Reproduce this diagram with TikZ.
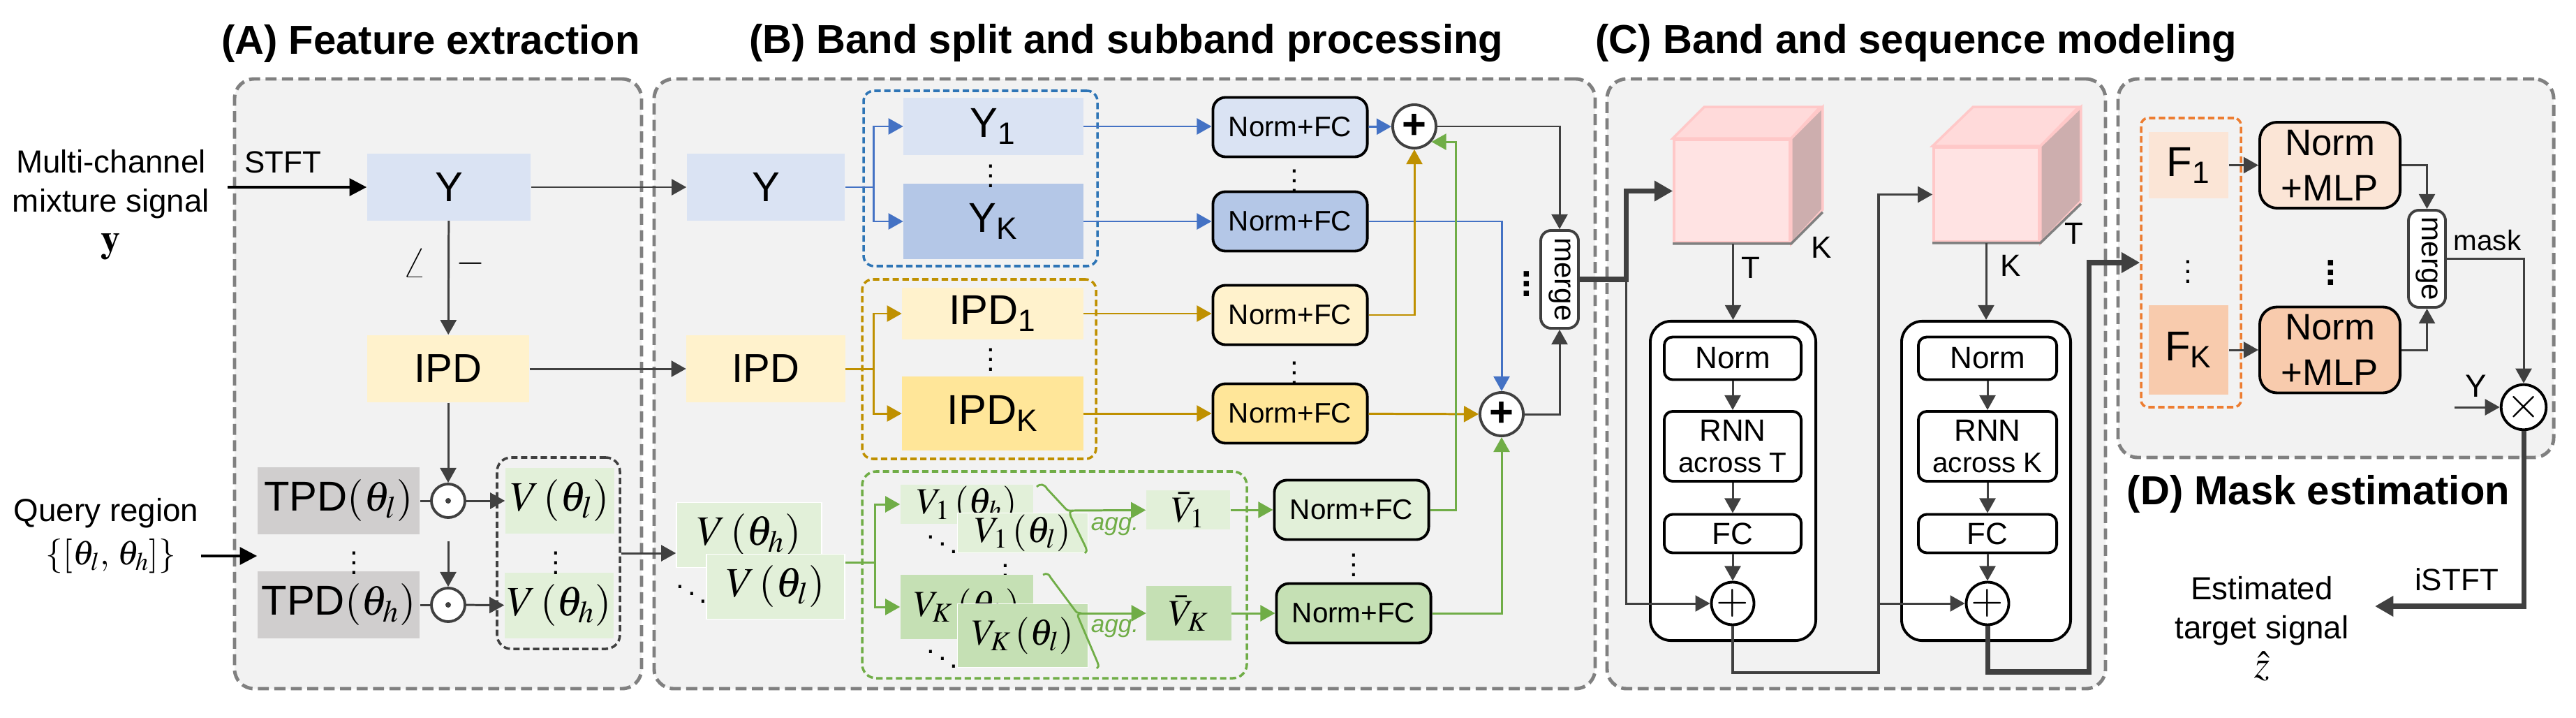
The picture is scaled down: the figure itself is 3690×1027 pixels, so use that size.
\documentclass[tikz,border=0pt]{standalone}
\usepackage{mathptmx}
\usepackage[no-math]{fontspec}
\setmainfont{Liberation Sans}
\usepackage{graphicx}
\usetikzlibrary{arrows.meta,fit}

\definecolor{panelbg}{HTML}{F2F2F2}
\definecolor{panelline}{HTML}{808080}
\definecolor{dgrey}{HTML}{404040}
\definecolor{yblue}{HTML}{DAE3F3}
\definecolor{ybluek}{HTML}{B4C7E7}
\definecolor{bline}{HTML}{4472C4}
\definecolor{bzone}{HTML}{2E75B6}
\definecolor{ipdy}{HTML}{FFF2CC}
\definecolor{ipdyk}{HTML}{FFE699}
\definecolor{yline}{HTML}{BF9000}
\definecolor{vgreen}{HTML}{E2F0D9}
\definecolor{vgreenk}{HTML}{C5E0B4}
\definecolor{gline}{HTML}{70AD47}
\definecolor{tpdgrey}{HTML}{D0CECE}
\definecolor{forange}{HTML}{FBE5D6}
\definecolor{forangek}{HTML}{F8CBAD}
\definecolor{ozone}{HTML}{ED7D31}
\definecolor{cubepink}{HTML}{FFE3E3}
\definecolor{cubetoppink}{HTML}{FFDADA}
\definecolor{cubeborder}{HTML}{FFC8C8}
\definecolor{cubeshade}{HTML}{CDAEAE}

\begin{document}
\begin{tikzpicture}[x=0.01cm, y=-0.01cm]

    % Styles
    \tikzstyle{panel} = [rectangle, rounded corners=0.28cm, draw=panelline, fill=panelbg, line width=1.4pt, dash pattern=on 4.5pt off 2.2pt, inner sep=0pt]
    \tikzstyle{paneltitle} = [inner sep=0pt, font=\fontsize{16.5}{20}\selectfont\bfseries]
    \tikzstyle{lbl} = [inner sep=0pt, align=center, font=\fontsize{13}{16}\selectfont]
    \tikzstyle{feat} = [rectangle, inner sep=0pt, font=\fontsize{17}{20}\selectfont]
    \tikzstyle{vfeat} = [rectangle, inner sep=0pt, font=\fontsize{15}{18}\selectfont]
    \tikzstyle{nfc} = [rectangle, rounded corners=0.18cm, draw=black, line width=1.1pt, minimum width=2.21cm, minimum height=0.85cm, inner sep=0pt, font=\fontsize{11.5}{14}\selectfont]
    \tikzstyle{nmlp} = [rectangle, rounded corners=0.25cm, draw=black, line width=1.1pt, minimum width=2.01cm, minimum height=1.23cm, inner sep=0pt, align=center, font=\fontsize{15}{18.5}\selectfont]
    \tikzstyle{sumop} = [circle, draw=dgrey, fill=white, line width=1.1pt, minimum size=0.62cm, inner sep=0pt, font=\fontsize{17}{17}\selectfont\bfseries]
    \tikzstyle{prodop} = [circle, draw=dgrey, fill=white, line width=1.1pt, minimum size=0.48cm, inner sep=0pt]
    \tikzstyle{mergebox} = [rectangle, rounded corners=0.15cm, draw=dgrey, fill=white, line width=1.1pt, minimum width=0.54cm, minimum height=1.40cm, inner sep=0pt, font=\fontsize{12}{12}\selectfont]
    \tikzstyle{blockout} = [rectangle, rounded corners=0.3cm, draw=black, line width=1.1pt, fill=white, minimum height=4.57cm, inner sep=0pt]
    \tikzstyle{layerbox} = [rectangle, rounded corners=0.12cm, draw=black, line width=1.1pt, fill=white, minimum width=1.96cm, inner sep=0pt, align=center, font=\fontsize{12.5}{13}\selectfont]
    \tikzstyle{dotsnode} = [inner sep=0pt, font=\fontsize{12}{12}\selectfont]
    \tikzstyle{cubefront} = [rectangle, fill=cubepink, draw=cubeborder, line width=1pt, inner sep=0pt]
    \tikzstyle{darrow} = [draw=dgrey, line width=0.85pt, -{Triangle[length=6pt,width=6.5pt]}]
    \tikzstyle{dline} = [draw=dgrey, line width=0.85pt]
    \tikzstyle{karrow} = [draw=black, line width=1.2pt, -{Triangle[length=7pt,width=7pt]}]
    \tikzstyle{tarrow} = [draw=dgrey, line width=2pt, -{Triangle[length=7.5pt,width=8pt]}]
    \tikzstyle{barrow} = [darrow, draw=bline]
    \tikzstyle{yarrow} = [darrow, draw=yline]
    \tikzstyle{garrow} = [darrow, draw=gline]
    \tikzset{greyzone/.style={rectangle, rounded corners=0.2cm, draw=dgrey, line width=1pt, dash pattern=on 2.6pt off 1.4pt, inner sep=0pt}}
    \tikzset{bluezone/.style={rectangle, rounded corners=0.15cm, draw=bzone, line width=1pt, dash pattern=on 2.6pt off 1.4pt, inner sep=0pt}}
    \tikzset{goldzone/.style={rectangle, rounded corners=0.15cm, draw=yline, line width=1pt, dash pattern=on 2.6pt off 1.4pt, inner sep=0pt}}
    \tikzset{greenzone/.style={rectangle, rounded corners=0.2cm, draw=gline, line width=1pt, dash pattern=on 2.6pt off 1.4pt, inner sep=0pt}}
    \tikzset{orangezone/.style={rectangle, rounded corners=0.1cm, draw=ozone, line width=1pt, dash pattern=on 2.6pt off 1.4pt, inner sep=0pt}}

    \useasboundingbox (0,0) rectangle (3690,1027);

    % Panels
    \node[panel, fit={(336,113) (919,986)}] (panelA) {};
    \node[panel, fit={(937,113) (2285,986)}] (panelB) {};
    \node[panel, fit={(2302,113) (3016,986)}] (panelC) {};
    \node[panel, fit={(3034,113) (3658,655)}] (panelD) {};
    \node[paneltitle] (titleA) at (617,62) {(A) Feature extraction};
    \node[paneltitle] (titleB) at (1613,62) {(B) Band split and subband processing};
    \node[paneltitle] (titleC) at (2745,62) {(C) Band and sequence modeling};
    \node[paneltitle] (titleD) at (3321,707) {(D) Mask estimation};

    % Zones
    \node[greyzone, fit={(712,655) (888,929)}] (vzoneA) {};
    \node[bluezone, fit={(1237,130) (1572,381)}] (yzone) {};
    \node[goldzone, fit={(1235,400) (1570,657)}] (izone) {};
    \node[greenzone, fit={(1235,675) (1786,971)}] (gzone) {};
    \node[orangezone, fit={(3067,169) (3210,583)}] (fzone) {};

    % Nodes (A)
    \node[lbl] (mixlbl) at (159,293) {Multi-channel\\mixture signal\\{\fontsize{16}{16}\selectfont$\mathbf{y}$}};
    \coordinate (yin) at (326,268);
    \node[lbl, font=\fontsize{12.5}{15}\selectfont] (stft) at (405,232) {STFT};
    \node[feat, fill=yblue, minimum width=2.34cm, minimum height=0.95cm] (ya) at (643,268) {Y};
    \node[feat, fill=ipdy, minimum width=2.32cm, minimum height=0.96cm, font=\fontsize{16.5}{20}\selectfont] (ipda) at (642,528) {IPD};
    \node[lbl, font=\fontsize{17}{17}\selectfont] (anglbl) at (594,377) {$\angle$};
    \node[lbl, font=\fontsize{15}{15}\selectfont] (minlbl) at (674,377) {$-$};
    \node[feat, fill=tpdgrey, minimum width=2.32cm, minimum height=0.95cm] (tpdl) at (485,717) {TPD$(\theta_l)$};
    \node[feat, fill=tpdgrey, minimum width=2.32cm, minimum height=0.95cm] (tpdh) at (485,866) {TPD$(\theta_h)$};
    \node[dotsnode] (tpddots) at (507,796) {$\vdots$};
    \node[prodop] (odl) at (642,717) {};
    \node[prodop] (odh) at (642,866) {};
    \fill[dgrey] (odl) circle[radius=0.04cm];
    \fill[dgrey] (odh) circle[radius=0.04cm];
    \coordinate (odmid) at (642,775);
    \node[feat, fill=vgreen, minimum width=1.56cm, minimum height=0.94cm] (vl) at (802,717) {$V\,(\theta_l)$};
    \node[feat, fill=vgreen, minimum width=1.56cm, minimum height=0.94cm] (vh) at (801,867) {$V\,(\theta_h)$};
    \node[dotsnode] (vdotsA) at (796,796) {$\vdots$};
    \node[lbl] (qlbl) at (152,735) {Query region};
    \node[lbl, font=\fontsize{14}{16}\selectfont] (qset) at (159,796) {$\{[\theta_l,\,\theta_h]\}$};
    \coordinate (tpdin) at (tpdl.west |- qset);

    % Nodes (B)
    \node[feat, fill=yblue, minimum width=2.26cm, minimum height=0.95cm] (yb) at (1097,268) {Y};
    \node[feat, fill=ipdy, minimum width=2.27cm, minimum height=0.96cm, font=\fontsize{16.5}{20}\selectfont] (ipdb) at (1097,528) {IPD};
    \node[feat, fill=vgreen, draw=white, minimum width=2.08cm, minimum height=0.93cm] (vhb) at (1073,766) {$V\,(\theta_h)$};
    \node[feat, fill=vgreen, draw=white, minimum width=1.98cm, minimum height=0.93cm] (vlb) at (1111,840) {$V\,(\theta_l)$};
    \node[dotsnode] (ddB) at (991,840) {$\ddots$};
    \node[feat, fill=yblue, minimum width=2.57cm, minimum height=0.82cm] (y1) at (1423,181) {Y\textsubscript{1}};
    \node[feat, fill=ybluek, minimum width=2.57cm, minimum height=1.08cm] (yk) at (1423,317) {Y\textsubscript{K}};
    \node[dotsnode] (ydots) at (1419,242) {$\vdots$};
    \node[feat, fill=ipdy, minimum width=2.59cm, minimum height=0.73cm] (ipd1) at (1422,449) {IPD\textsubscript{1}};
    \node[feat, fill=ipdyk, minimum width=2.59cm, minimum height=1.06cm] (ipdk) at (1422,592) {IPD\textsubscript{K}};
    \node[dotsnode] (idots) at (1419,505) {$\vdots$};
    \node[vfeat, fill=vgreen, minimum width=1.90cm, minimum height=0.55cm] (v1h) at (1385,722) {$V_1\,(\theta_h)$};
    \node[vfeat, fill=vgreen, draw=white, minimum width=1.87cm, minimum height=0.57cm] (v1l) at (1465,763) {$V_1\,(\theta_l)$};
    \node[dotsnode] (dd1) at (1350,769) {$\ddots$};
    \node[dotsnode] (vkdots) at (1440,814) {$\vdots$};
    \node[vfeat, fill=vgreenk, minimum width=1.90cm, minimum height=0.92cm] (vkh) at (1385,869) {$V_K\,(\theta_h)$};
    \node[vfeat, fill=vgreenk, draw=white, minimum width=1.87cm, minimum height=0.91cm] (vkl) at (1465,910) {$V_K\,(\theta_l)$};
    \node[dotsnode] (ddk) at (1350,933) {$\ddots$};
    \node[vfeat, fill=vgreen, minimum width=1.20cm, minimum height=0.55cm] (vbar1) at (1702,730) {$\bar{V}_1$};
    \node[vfeat, fill=vgreenk, minimum width=1.21cm, minimum height=0.78cm] (vbark) at (1703,878) {$\bar{V}_K$};
    \coordinate (agg1) at (1537,731);
    \coordinate (aggk) at (1549,878);
    \draw[gline, line width=0.8pt] (1485,697) .. controls (1490,692) and (1496,693) .. (1500,700) -- (1527,729) .. controls (1529,731) .. (agg1);
    \draw[gline, line width=0.8pt] (agg1) .. controls (1532,733) .. (1534,740) -- (1555,783) .. controls (1557,789) .. (1554,792);
    \draw[gline, line width=0.8pt] (1494,823) .. controls (1499,820) and (1503,822) .. (1505,827) -- (1540,874) .. controls (1542,877) .. (aggk);
    \draw[gline, line width=0.8pt] (aggk) .. controls (1543,880) .. (1546,887) -- (1572,948) .. controls (1574,954) .. (1571,957);
    \node[inner sep=0pt, text=gline, font=\fontsize{10}{10}\selectfont\itshape] (agglbl1) at (1597,754) {agg.};
    \node[inner sep=0pt, text=gline, font=\fontsize{10}{10}\selectfont\itshape] (agglblk) at (1597,900) {agg.};
    \node[nfc, fill=yblue] (nf1) at (1848,182) {Norm+FC};
    \node[nfc, fill=ybluek] (nf2) at (1848,317) {Norm+FC};
    \node[nfc, fill=ipdy] (nf3) at (1848,451) {Norm+FC};
    \node[nfc, fill=ipdyk] (nf4) at (1848,592) {Norm+FC};
    \node[nfc, fill=vgreen] (nf5) at (1936,730) {Norm+FC};
    \node[nfc, fill=vgreenk] (nf6) at (1939,878) {Norm+FC};
    \node[dotsnode] (nfdots1) at (1854,249) {$\vdots$};
    \node[dotsnode] (nfdots2) at (1854,524) {$\vdots$};
    \node[dotsnode] (nfdots3) at (1939,799) {$\vdots$};
    \node[sumop] (plus1) at (2026,181) {+};
    \node[sumop] (plus2) at (2151,593) {+};
    \node[mergebox] (mergeB) at (2234,400) {\rotatebox{-90}{merge}};
    \node[dotsnode, font=\fontsize{15}{15}\selectfont\bfseries] (mdots) at (2187,396) {$\vdots$};
    \coordinate (bsplit) at (1251,268);
    \coordinate (isplit) at (1251,528);
    \coordinate (vsplit) at (1253,805);
    \coordinate (gup) at (2085,730);

    % Nodes (C)
    \node[cubefront, minimum width=1.66cm, minimum height=1.47cm] (cube1) at (2481,273.5) {};
    \fill[cubetoppink, draw=cubeborder, line width=1pt] (cube1.north west) -- ++(45,-45) -- ++(166,0) -- (cube1.north east) -- cycle;
    \fill[cubeshade, draw=cubeborder, line width=1pt] (cube1.north east) -- ++(45,-45) -- ++(0,147) -- (cube1.south east) -- cycle;
    \draw[gray, line width=1pt] (cube1.south west) -- (cube1.south east) -- ++(45,-45);
    \node[cubefront, minimum width=1.51cm, minimum height=1.35cm] (cube2) at (2845.5,278.5) {};
    \fill[cubetoppink, draw=cubeborder, line width=1pt] (cube2.north west) -- ++(58,-56) -- ++(151,0) -- (cube2.north east) -- cycle;
    \fill[cubeshade, draw=cubeborder, line width=1pt] (cube2.north east) -- ++(58,-56) -- ++(0,135) -- (cube2.south east) -- cycle;
    \draw[gray, line width=1pt] (cube2.south west) -- (cube2.south east) -- ++(58,-56);
    \node[lbl, font=\fontsize{12.5}{15}\selectfont] (k1) at (2609,354) {K};
    \node[lbl, font=\fontsize{12.5}{15}\selectfont] (t1) at (2508,383) {T};
    \node[lbl, font=\fontsize{12.5}{15}\selectfont] (k2) at (2880,380) {K};
    \node[lbl, font=\fontsize{12.5}{15}\selectfont] (t2) at (2971,334) {T};
    \node[blockout, minimum width=2.37cm] (blk1) at (2482.5,688.5) {};
    \node[layerbox, minimum height=0.61cm] (norm1) at (2482,513) {Norm};
    \node[layerbox, minimum height=1.00cm] (rnn1) at (2482,639) {RNN\\{\fontsize{11.5}{12}\selectfont across T}};
    \node[layerbox, minimum height=0.55cm] (fc1) at (2482,764) {FC};
    \node[sumop, minimum size=0.58cm, draw=black, font=\fontsize{17}{17}\selectfont] (cplus1) at (2482,864) {$+$};
    \node[blockout, minimum width=2.42cm] (blk2) at (2845,688.5) {};
    \node[layerbox, minimum width=1.98cm, minimum height=0.61cm] (norm2) at (2847,513) {Norm};
    \node[layerbox, minimum width=1.98cm, minimum height=1.00cm] (rnn2) at (2847,639) {RNN\\{\fontsize{11.5}{12}\selectfont across K}};
    \node[layerbox, minimum width=1.98cm, minimum height=0.55cm] (fc2) at (2847,764) {FC};
    \node[sumop, minimum size=0.58cm, draw=black, font=\fontsize{17}{17}\selectfont] (cplus2) at (2847,864) {$+$};
    \coordinate (csplit) at (2329,400);
    \coordinate (cmid) at (2691,963);
    \coordinate (dmid) at (2992,962);

    % Nodes (D)
    \node[feat, fill=forange, minimum width=1.14cm, minimum height=0.95cm] (f1) at (3135,236.5) {F\textsubscript{1}};
    \node[feat, fill=forangek, minimum width=1.14cm, minimum height=1.28cm] (fk) at (3135,501) {F\textsubscript{K}};
    \node[dotsnode] (fdots) at (3134,379) {$\vdots$};
    \node[nmlp, fill=forange] (nm1) at (3337.5,236.5) {Norm\\+MLP};
    \node[nmlp, fill=forangek] (nm2) at (3337.5,501) {Norm\\+MLP};
    \node[dotsnode, font=\fontsize{15}{15}\selectfont\bfseries] (nmdots) at (3339,380) {$\vdots$};
    \node[mergebox, minimum width=0.53cm, minimum height=1.39cm] (mergeD) at (3476.5,370.5) {\rotatebox{-90}{merge}};
    \node[sumop, minimum size=0.57cm, draw=black, font=\fontsize{18}{18}\selectfont\bfseries] (times) at (3615,583) {$\times$};
    \node[lbl, font=\fontsize{11.5}{14}\selectfont] (masklbl) at (3563,344) {mask};
    \node[lbl] (ylbl) at (3547,553) {Y};
    \coordinate (yin2) at (3516,583);
    \coordinate (zout) at (3402,868);
    \node[lbl, font=\fontsize{12.5}{15}\selectfont] (istft) at (3519,830) {iSTFT};
    \node[lbl] (estlbl) at (3240,900) {Estimated\\target signal\\{\fontsize{16}{16}\selectfont$\hat{z}$}};

    % Arrows (A)
    \draw[karrow] (yin) -- (ya);
    \draw[karrow] ([xshift=0.35cm]qset.east) -- (tpdin);
    \draw[darrow] (ya) -- (ipda);
    \draw[darrow] (ipda) -- (odl);
    \draw[darrow] (odmid) -- (odh);
    \draw[dline] (tpdl.east) -- (odl.west);
    \draw[dline] (tpdh.east) -- (odh.west);
    \draw[darrow] (odl) -- (vl);
    \draw[darrow] (odh) -- (vh);
    \draw[darrow] (ya) -- (yb);
    \draw[darrow] (ipda) -- (ipdb);
    \draw[darrow] (vzoneA.east) -- (vzoneA.east -| vhb.west);

    % Arrows (B)
    \draw[barrow] (yb.east) -- (bsplit) |- (y1.west);
    \draw[barrow] (bsplit) |- (yk.west);
    \draw[yarrow] (ipdb.east) -- (isplit) |- (ipd1.west);
    \draw[yarrow] (isplit) |- (ipdk.west);
    \draw[garrow] (vlb.east |- vsplit) -- (vsplit) |- (v1h.west);
    \draw[garrow] (vsplit) |- (vkh.west);
    \draw[garrow] (agg1) -- (vbar1);
    \draw[garrow] (aggk) -- (vbark);
    \draw[barrow] (y1.east) -- (y1.east -| nf1.west);
    \draw[barrow] (yk.east) -- (yk.east -| nf2.west);
    \draw[yarrow] (ipd1.east) -- (ipd1.east -| nf3.west);
    \draw[yarrow] (ipdk.east) -- (ipdk.east -| nf4.west);
    \draw[garrow] (vbar1) -- (nf5);
    \draw[garrow] (vbark) -- (nf6);
    \draw[barrow] (nf1) -- (plus1);
    \draw[barrow] (nf2.east) -| (plus2.north);
    \draw[yarrow] (nf3.east) -| (plus1.south);
    \draw[yarrow] (nf4) -- (plus2);
    \draw[garrow] (nf5.east) -- (gup) |- (plus1.-42);
    \draw[garrow] (nf6.east) -| (plus2.south);
    \draw[darrow] (plus1.east) -| (mergeB.north);
    \draw[darrow] (plus2.east) -| (mergeB.south);

    % Arrows (C)
    \draw[tarrow] (mergeB.east) -- (csplit) |- (cube1.west);
    \draw[darrow] (csplit) |- (cplus1.west);
    \draw[darrow] (cube1.south -| blk1.north) -- (blk1.north);
    \draw[darrow] (norm1) -- (rnn1);
    \draw[darrow] (rnn1) -- (fc1);
    \draw[darrow] (fc1) -- (cplus1);
    \draw[darrow, line width=1pt] (cplus1.south) |- (cmid) |- (cube2.west);
    \draw[darrow] (cmid |- cplus2) -- (cplus2.west);
    \draw[darrow] (cube2.south -| blk2.north) -- (blk2.north);
    \draw[darrow] (norm2) -- (rnn2);
    \draw[darrow] (rnn2) -- (fc2);
    \draw[darrow] (fc2) -- (cplus2);
    \draw[tarrow] (cplus2.south) |- (dmid) |- (fzone.west);

    % Arrows (D)
    \draw[darrow] (f1) -- (nm1);
    \draw[darrow] (fk) -- (nm2);
    \draw[darrow] (nm1.east) -| (mergeD.north);
    \draw[darrow] (nm2.east) -| (mergeD.south);
    \draw[darrow] (mergeD.east) -| (times.north);
    \draw[darrow] (yin2) -- (times.west);
    \draw[tarrow] (times.south) |- (zout);
\end{tikzpicture}
\end{document}
